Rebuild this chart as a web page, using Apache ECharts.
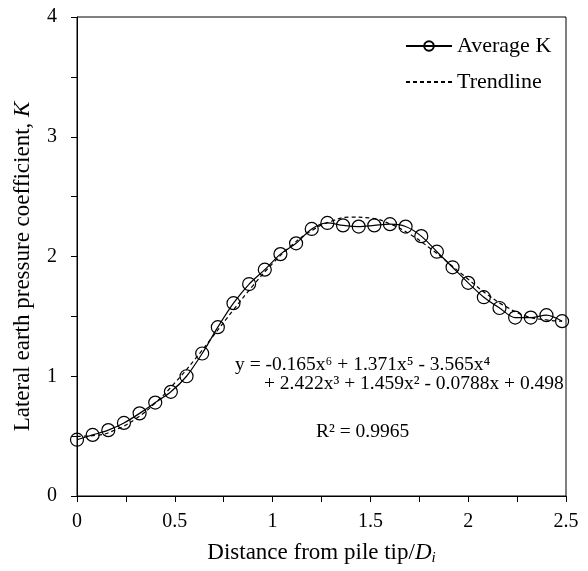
<!DOCTYPE html>
<html>
<head>
<meta charset="utf-8">
<script src="https://cdn.jsdelivr.net/npm/echarts@6/dist/echarts.min.js"></script>
<style>
  html, body { margin: 0; padding: 0; background: #fff; }
  #chart { width: 588px; height: 571px; }
</style>
</head>
<body>
<div id="chart"></div>
<script>
// ---- data ----
const distance = [0, 0.08, 0.16, 0.24, 0.32, 0.40, 0.48, 0.56, 0.64, 0.72, 0.80, 0.88, 0.96, 1.04, 1.12, 1.20,
                  1.28, 1.36, 1.44, 1.52, 1.60, 1.68, 1.76, 1.84, 1.92, 2.00, 2.08, 2.16, 2.24, 2.32, 2.40, 2.48];
const averageK = [0.47, 0.51, 0.55, 0.61, 0.69, 0.78, 0.87, 1.00, 1.19, 1.41, 1.61, 1.77, 1.89, 2.02, 2.11, 2.23,
                  2.28, 2.26, 2.25, 2.26, 2.27, 2.25, 2.17, 2.04, 1.91, 1.78, 1.66, 1.57, 1.49, 1.49, 1.51, 1.46];
const trendX = [0, 0.1, 0.2, 0.3, 0.4, 0.5, 0.6, 0.7, 0.8, 0.9, 1.0, 1.1, 1.2, 1.3, 1.4, 1.5, 1.6, 1.7, 1.8, 1.9,
                2.0, 2.1, 2.2, 2.3, 2.4, 2.48];
const trendK = [0.498, 0.507, 0.555, 0.645, 0.777, 0.944, 1.136, 1.344, 1.555, 1.757, 1.941, 2.097, 2.216, 2.294,
                2.329, 2.321, 2.272, 2.188, 2.075, 1.945, 1.81, 1.68, 1.575, 1.50, 1.47, 1.46];
const xTickLabels = [0, 0.5, 1, 1.5, 2, 2.5];
const yTickLabels = [0, 1, 2, 3, 4];
const seriesNames = ['Average K', 'Trendline'];
const equationLines = ['y = -0.165x\u2076 + 1.371x\u2075 - 3.565x\u2074', '+ 2.422x\u00B3 + 1.459x\u00B2 - 0.0788x + 0.498'];
const r2Text = 'R\u00B2 = 0.9965';

const FONT = '"Liberation Serif", "Times New Roman", "DejaVu Serif", serif';
const chart = echarts.init(document.getElementById('chart'), null, { renderer: 'canvas' });

function pairs(xs, ys) { return xs.map((x, i) => [x, ys[i]]); }
function isLabel(list, v) { return list.some(t => Math.abs(t - v) < 1e-6); }

chart.setOption({
  animation: false,
  backgroundColor: '#fff',
  grid: { left: 77, right: 22, top: 17, bottom: 64, show: true, borderColor: '#000', borderWidth: 1 },
  legend: {
    data: [
      { name: seriesNames[0] },
      { name: seriesNames[1], itemStyle: { color: 'rgba(0,0,0,0)', borderWidth: 0, opacity: 0 } }
    ],
    orient: 'vertical',
    left: 400,
    top: 30,
    itemWidth: 46,
    itemHeight: 12,
    itemGap: 14,
    textStyle: { fontFamily: FONT, fontSize: 22, color: '#000' }
  },
  xAxis: {
    type: 'value', min: 0, max: 2.5, interval: 0.25,
    axisLine: { show: true, lineStyle: { color: '#000', width: 1 } },
    axisTick: { show: true, inside: false, length: 6, lineStyle: { color: '#000' } },
    splitLine: { show: false },
    axisLabel: {
      color: '#000', fontFamily: FONT, fontSize: 20, margin: 16,
      formatter: v => isLabel(xTickLabels, v) ? String(+v.toFixed(2)) : ''
    },
    name: '{n|Distance from pile tip/}{i|D}{s|i}',
    nameLocation: 'middle',
    nameGap: 43,
    nameTextStyle: {
      rich: {
        n: { fontFamily: FONT, fontSize: 23, color: '#000' },
        i: { fontFamily: FONT, fontSize: 23, fontStyle: 'italic', color: '#000' },
        s: { fontFamily: FONT, fontSize: 15, fontStyle: 'italic', color: '#000', padding: [12, 0, 0, 0] }
      }
    }
  },
  yAxis: {
    type: 'value', min: 0, max: 4, interval: 0.5,
    axisLine: { show: true, lineStyle: { color: '#000', width: 1 } },
    axisTick: { show: true, inside: false, length: 6, lineStyle: { color: '#000' } },
    splitLine: { show: false },
    axisLabel: {
      color: '#000', fontFamily: FONT, fontSize: 20, margin: 20,
      formatter: v => isLabel(yTickLabels, v) ? String(v) : ''
    },
    name: '{n|Lateral earth pressure coefficient, }{i|K}',
    nameLocation: 'middle',
    nameGap: 43,
    nameRotate: 90,
    nameTextStyle: {
      padding: [0, 20, 0, 0],
      rich: {
        n: { fontFamily: FONT, fontSize: 23, color: '#000' },
        i: { fontFamily: FONT, fontSize: 23, fontStyle: 'italic', color: '#000' }
      }
    }
  },
  series: [
    {
      name: seriesNames[0],
      type: 'line',
      data: pairs(distance, averageK),
      smooth: 0.3,
      symbol: 'circle',
      symbolSize: 13,
      itemStyle: { color: 'rgba(0,0,0,0)', borderColor: '#000', borderWidth: 1.2 },
      lineStyle: { color: '#000', width: 1.2 },
      z: 3
    },
    {
      name: seriesNames[1],
      type: 'line',
      data: pairs(trendX, trendK),
      smooth: true,
      symbol: 'none',
      itemStyle: { color: '#000' },
      lineStyle: { color: '#000', width: 1.2, type: [4, 3] },
      z: 2
    }
  ],
  graphic: [
    { type: 'text', left: 235, top: 355, style: { text: equationLines[0], font: '19.5px ' + FONT, fill: '#000' } },
    { type: 'text', left: 264, top: 374, style: { text: equationLines[1], font: '19.5px ' + FONT, fill: '#000' } },
    { type: 'text', left: 316, top: 422, style: { text: r2Text, font: '19.5px ' + FONT, fill: '#000' } }
  ]
});
</script>
</body>
</html>
